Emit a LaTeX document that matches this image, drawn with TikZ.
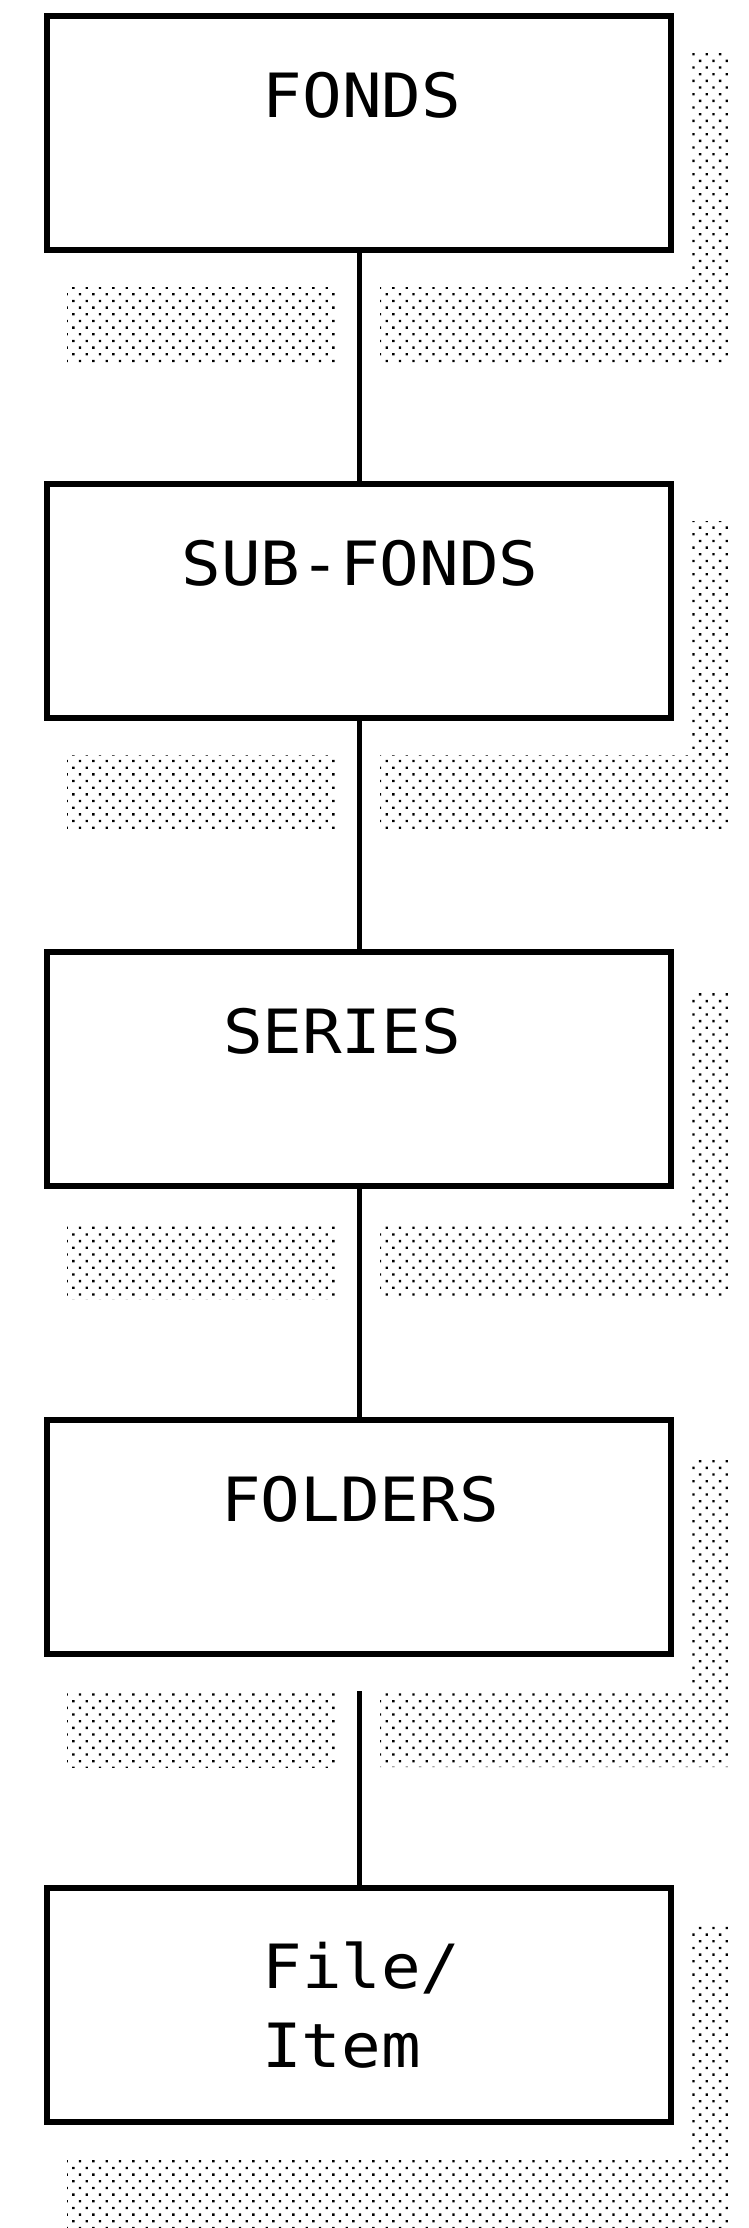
\documentclass[tikz,border=0pt]{standalone}
\usepackage{fontspec}
\newfontfamily\boxfont[FakeStretch=1.08]{DejaVu Sans Mono}
\usetikzlibrary{patterns.meta}
\begin{document}
\begin{tikzpicture}[x=1pt,y=-1pt,
  box/.style={draw=black, line width=5.5pt, minimum width=624pt, minimum height=234pt, inner sep=0pt},
  lbl/.style={font=\boxfont\fontsize{61}{79}\selectfont, anchor=base, inner sep=0pt},
  link/.style={draw=black, line width=5pt},
  shadefill/.style={pattern={Dots[radius=1.65pt,distance=9.43pt,angle=45]}, pattern color=black}]
\useasboundingbox (0,0) rectangle (749,2228);

% shadows
\foreach \t in {16,484,952,1420}{
  \pgfmathsetmacro{\b}{\t+234}
  \pgfmathsetmacro{\vs}{\t+37}
  \pgfmathsetmacro{\hs}{\b+37}
  \pgfmathsetmacro{\he}{\b+113}
  \fill[shadefill] (689,\vs) -- (729,\vs) -- (729,\he) -- (380,\he) -- (380,\hs) -- (689,\hs) -- cycle;
  \fill[shadefill] (67,\hs) rectangle (338,\he);
}
\fill[shadefill] (689,1925) -- (729,1925) -- (729,2228) -- (67,2228) -- (67,2159) -- (689,2159) -- cycle;

% boxes
\node[box] (b1) at (359,133) {};
\node[box] (b2) at (359,601) {};
\node[box] (b3) at (359,1069) {};
\node[box] (b4) at (359,1537) {};
\node[box] (b5) at (359,2005) {};

% labels
\node[lbl] (t1) at (362,117) {FONDS};
\node[lbl] (t2) at (360,585) {SUB-FONDS};
\node[lbl] (t3) at (342,1053) {SERIES};
\node[lbl] (t4) at (360,1521) {FOLDERS};
\node[lbl] (t5a) at (361.5,1988) {File/};
\node[lbl] (t5b) at (341.5,2067) {Item};

% connectors
\coordinate (c4) at (359,1691);
\draw[link] (b1.south) -- (b2.north);
\draw[link] (b2.south) -- (b3.north);
\draw[link] (b3.south) -- (b4.north);
\draw[link] (c4) -- (b5.north);
\end{tikzpicture}
\end{document}
